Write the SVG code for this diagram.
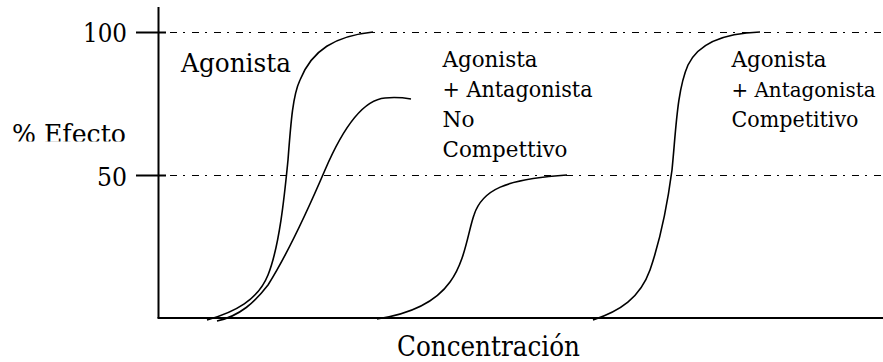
<svg xmlns="http://www.w3.org/2000/svg" width="883" height="362" viewBox="0 0 883 362">
<style>
text{font-family:'DejaVu Serif',serif;fill:#000}
.big{font-size:25.5px}
.sm{font-size:23px}
.axis{stroke:#000;stroke-width:2;fill:none}
.ref{stroke:#000;stroke-width:1.2;fill:none;stroke-dasharray:7 6 2 7}
.curve{stroke:#000;stroke-width:1.6;fill:none}
</style>
<defs>
<clipPath id="clipEf"><rect x="0" y="100" width="150" height="41.5"/></clipPath>
</defs>
<rect width="883" height="362" fill="#fff"/>
<g id="axes">
<line class="axis" x1="158.5" y1="7" x2="158.5" y2="318"/>
<line class="axis" x1="157.5" y1="318" x2="883" y2="318"/>
<line class="axis" x1="136" y1="32.5" x2="166" y2="32.5"/>
<line class="axis" x1="136" y1="175.5" x2="166" y2="175.5"/>
<line class="ref" x1="170" y1="32.5" x2="883" y2="32.5"/>
<line class="ref" x1="170" y1="175.5" x2="883" y2="175.5"/>
</g>
<g id="axis-labels">
<text class="big" x="83" y="42" textLength="44" lengthAdjust="spacingAndGlyphs">100</text>
<text class="big" x="97" y="186" textLength="30" lengthAdjust="spacingAndGlyphs">50</text>
<text class="big" x="12" y="143" textLength="114" lengthAdjust="spacingAndGlyphs" clip-path="url(#clipEf)">% Efecto</text>
<text x="397" y="356" font-size="27" textLength="183" lengthAdjust="spacingAndGlyphs">Concentración</text>
</g>
<g id="connectors">
<path id="curve-agonista" class="curve" d="M207,320 C235,312 258,300 268,275 C280,245 285,190 288,160 C291,120 293,95 300,80 C312,50 335,36 373,32"/>
<path id="curve-no-competitivo-1" class="curve" d="M217,321 C240,316 255,302 268,285 C290,250 310,205 325,170 C340,135 360,100 385,98 C395,97 405,98 411,99"/>
<path id="curve-no-competitivo-2" class="curve" d="M377,319 C410,314 435,303 450,282 C465,262 468,232 474,215 C482,190 505,179 567,175"/>
<path id="curve-competitivo" class="curve" d="M593,320 C620,311 640,298 650,270 C662,235 668,200 672,170 C676,130 677,90 688,65 C700,40 730,33 760,32"/>
</g>
<g id="label-agonista">
<text class="big" x="181" y="72" textLength="110" lengthAdjust="spacingAndGlyphs">Agonista</text>
</g>
<g id="label-no-competitivo">
<text class="sm" x="442.5" y="67" textLength="95" lengthAdjust="spacingAndGlyphs">Agonista</text>
<text class="sm" x="442.5" y="97" textLength="150" lengthAdjust="spacingAndGlyphs">+ Antagonista</text>
<text class="sm" x="442.5" y="127" textLength="32" lengthAdjust="spacingAndGlyphs">No</text>
<text class="sm" x="442.5" y="157" textLength="125" lengthAdjust="spacingAndGlyphs">Compettivo</text>
</g>
<g id="label-competitivo">
<text class="sm" x="731.5" y="67" textLength="95" lengthAdjust="spacingAndGlyphs">Agonista</text>
<text x="731.5" y="97" font-size="20.8" textLength="144" lengthAdjust="spacingAndGlyphs">+ Antagonista</text>
<text class="sm" x="731.5" y="127" textLength="127" lengthAdjust="spacingAndGlyphs">Competitivo</text>
</g>
</svg>
